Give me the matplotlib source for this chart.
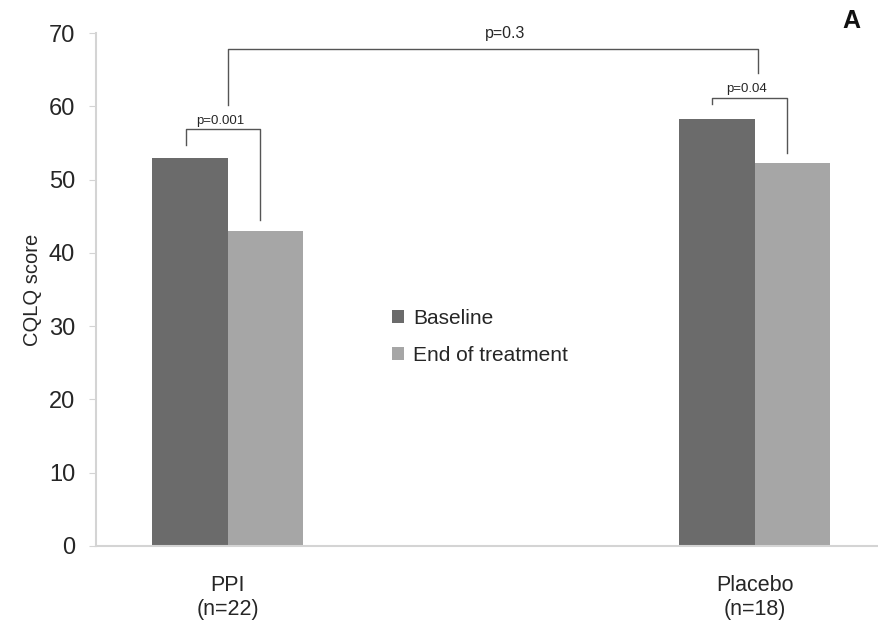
import matplotlib.pyplot as plt
import numpy as np

plt.rcParams['font.family'] = ['Liberation Sans', 'DejaVu Sans']

# data
groups = ["PPI\n(n=22)", "Placebo\n(n=18)"]
baseline = [53.0, 58.2]
end_of_treatment = [43.0, 52.3]
series_names = ["Baseline", "End of treatment"]
p_within = ["p=0.001", "p=0.04"]
p_between = "p=0.3"

# bracket levels (y values) for within-group comparisons
within_top = [56.9, 61.1]
within_left_end = [54.7, 60.3]
within_right_end = [44.5, 53.6]
within_text_y = [57.6, 62.0]

dark = "#6b6b6b"
light = "#a6a6a6"
axis_col = "#d4d4d4"
text_col = "#262626"
bcol = "#555555"

fig = plt.figure(figsize=(8.79, 6.31), dpi=100)
ax = fig.add_axes([96 / 879, 85 / 631, 783 / 879, 513 / 631])

x = np.arange(len(groups))
w = 0.143
ax.bar(x - w / 2, baseline, w, color=dark, label=series_names[0])
ax.bar(x + w / 2, end_of_treatment, w, color=light, label=series_names[1])

ax.set_xlim(-0.25, 1.236)
ax.set_ylim(0, 70)
ax.set_yticks(range(0, 71, 10))
ax.set_xticks(x)
ax.set_xticklabels(groups, fontsize=15.5, color=text_col, linespacing=1.15)
ax.tick_params(axis='x', length=0, pad=21)
ax.tick_params(axis='y', length=5, color=axis_col, labelsize=17, labelcolor=text_col, pad=10)

for s in ['top', 'right']:
    ax.spines[s].set_visible(False)
for s in ['left', 'bottom']:
    ax.spines[s].set_color(axis_col)
    ax.spines[s].set_linewidth(1.5)

ax.set_ylabel("CQLQ score", fontsize=14.5, color=text_col, labelpad=5)

# brackets for within-group comparisons
for i in range(len(groups)):
    xl = x[i] - 0.08
    xr = x[i] + 0.062
    ax.plot([xl, xl, xr, xr],
            [within_left_end[i], within_top[i], within_top[i], within_right_end[i]],
            color=bcol, lw=1.0, clip_on=False)
    ax.text(x[i] - 0.015, within_text_y[i], p_within[i], ha='center', va='baseline',
            fontsize=9.5, color=text_col)

# bracket between groups
ax.plot([x[0], x[0], x[1] + 0.006, x[1] + 0.006], [60.2, 67.8, 67.8, 64.5],
        color=bcol, lw=1.0, clip_on=False)
ax.text(0.526, 69.3, p_between, ha='center', va='baseline',
        fontsize=11.5, color=text_col, clip_on=False)

ax.legend(loc='center left', bbox_to_anchor=(0.378, 0.408), frameon=False,
          fontsize=15, handlelength=0.6, handleheight=0.6, handletextpad=0.4,
          labelspacing=0.85, borderpad=0, borderaxespad=0, labelcolor=text_col)

fig.text(851 / 879, 1 - 21 / 631, "A", fontsize=18, fontweight='bold',
         ha='center', va='center', color='#111111')

fig.savefig("out.png", dpi=100)
